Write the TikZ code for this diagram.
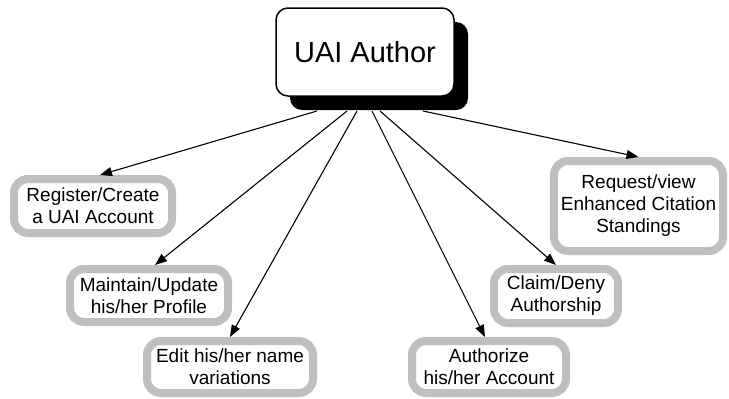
\documentclass[tikz,border=0pt]{standalone}
\usepackage{fontspec}
\setmainfont{Liberation Sans}
\usetikzlibrary{arrows.meta,shadows}

\tikzset{
	author/.style={draw=black, line width=1.5pt, fill=white, rounded corners=12pt,
		minimum width=178pt, minimum height=88pt, font=\fontsize{29}{34}\selectfont,
		drop shadow={shadow xshift=14pt, shadow yshift=-14pt, fill=black, opacity=1}},
	task/.style={draw=black!25, line width=8pt, fill=white, rounded corners=14pt,
		align=center, inner sep=0pt, font=\fontsize{19}{22}\selectfont},
	link/.style={-{Triangle[length=12pt,width=9pt]}, line width=1.1pt}
}

\begin{document}
\begin{tikzpicture}[x=1pt, y=-1pt]

\useasboundingbox (0,0) rectangle (729,399);

\node[author] (uai) at (365,52) {UAI Author};

%\\ use cases
\node[task, minimum width=158pt, minimum height=54pt] (register)  at (93,206)    {Register/Create\\a UAI Account};
\node[task, minimum width=158pt, minimum height=53pt] (maintain)  at (149,295.5) {Maintain/Update\\his/her Profile};
\node[task, minimum width=166pt, minimum height=52pt] (edit)      at (230,367)   {Edit his/her name\\variations};
\node[task, minimum width=154pt, minimum height=52pt] (authorize) at (489,367)   {Authorize\\his/her Account};
\node[task, minimum width=124pt, minimum height=54pt] (claim)     at (556,296)   {Claim/Deny\\Authorship};
\node[task, minimum width=169pt, minimum height=90pt] (request)   at (638.5,206) {Request/view\\Enhanced Citation\\Standings};

\foreach \n/\x in {s1/317, s2/347, s3/357, s4/372, s5/380, s6/423}
{
	\coordinate (\n) at (\x,111);
}

\draw[link] (s1) -- ([xshift=7pt]register.north);
\draw[link] (s2) -- ([xshift=6pt]maintain.north);
\draw[link] (s3) -- (edit.north);
\draw[link] (s4) -- ([xshift=-4pt]authorize.north);
\draw[link] (s5) -- (claim.north);
\draw[link] (s6) -- (request.north);

\end{tikzpicture}
\end{document}
